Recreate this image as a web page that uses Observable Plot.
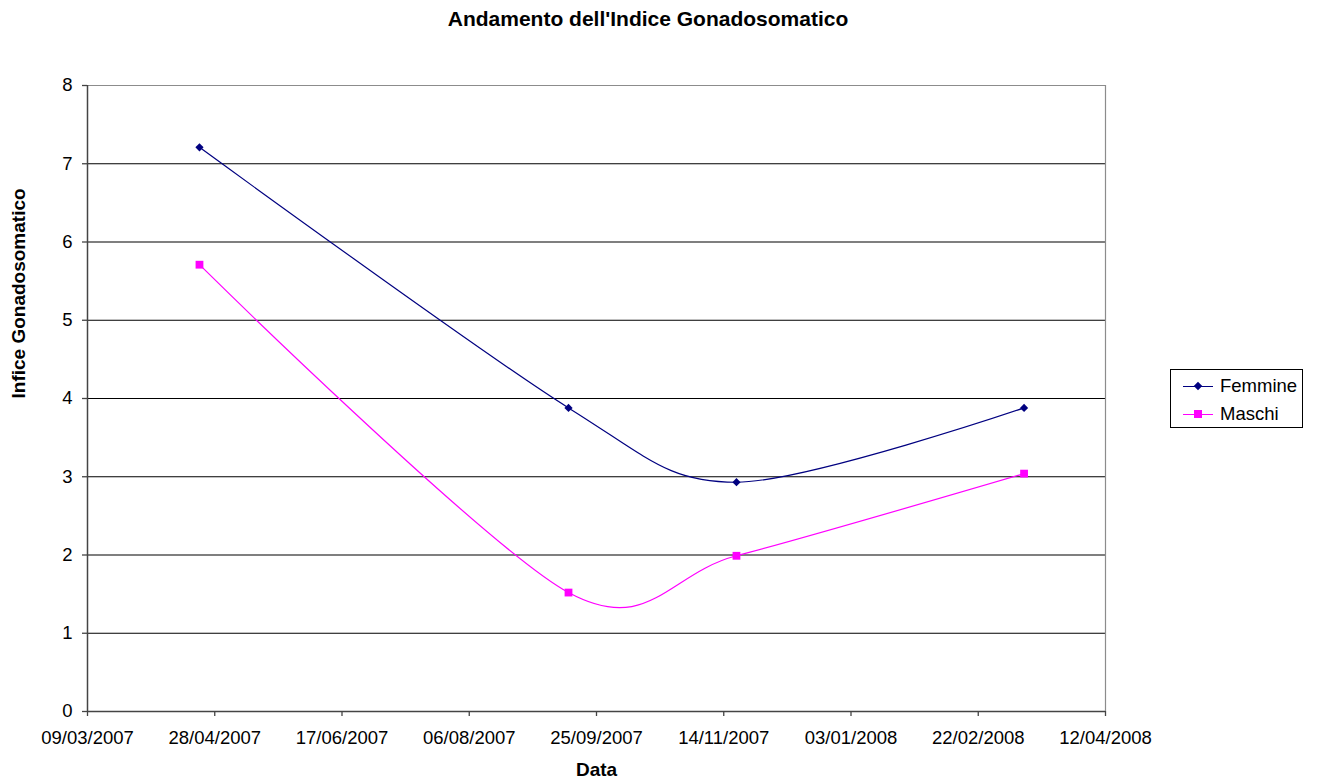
<!DOCTYPE html>
<html>
<head>
<meta charset="utf-8">
<script src="https://cdn.jsdelivr.net/npm/d3@7"></script>
<script src="https://cdn.jsdelivr.net/npm/@observablehq/plot@0.6"></script>
<style>
  html, body { margin: 0; padding: 0; background: #fff; }
  #wrap { position: relative; width: 1317px; height: 782px; font-family: "Liberation Sans", Arial, sans-serif; }
  #legend { position: absolute; left: 1170px; top: 369px; width: 131px; height: 57px; border: 1px solid #000; background: #fff; font-size: 18.5px; }
  .row { position: absolute; left: 0; height: 20px; width: 131px; }
  .swatch { position: absolute; left: 12px; top: 10px; width: 30px; height: 1px; }
  .mark { position: absolute; }
  .lbl { position: absolute; left: 49px; top: -1px; line-height: 22px; color: #000; }
</style>
</head>
<body>
<div id="wrap"></div>
<script>
// ---- data ----
const seriesNames = ["Femmine", "Maschi"];
const seriesColors = ["#000080", "#FF00FF"];
const sampleDates = ["22/04/2007", "14/09/2007", "19/11/2007", "11/03/2008"];
const femmine = [7.21, 3.88, 2.93, 3.88];
const maschi = [5.71, 1.52, 1.99, 3.04];
const xTickLabels = ["09/03/2007", "28/04/2007", "17/06/2007", "06/08/2007", "25/09/2007", "14/11/2007", "03/01/2008", "22/02/2008", "12/04/2008"];
const yTicks = [0, 1, 2, 3, 4, 5, 6, 7, 8];
const gridLines = [1, 2, 3, 4, 5, 6, 7];
const titleText = "Andamento dell'Indice Gonadosomatico";
const xLabel = "Data";
const yLabel = "Infice Gonadosomatico";

// ---- build ----
const parse = d3.utcParse("%d/%m/%Y");
const fmt = d3.utcFormat("%d/%m/%Y");
const xTicks = xTickLabels.map(parse);
const femRows = sampleDates.map((d, i) => ({date: parse(d), value: femmine[i]}));
const masRows = sampleDates.map((d, i) => ({date: parse(d), value: maschi[i]}));

const font = '"Liberation Sans", Arial, sans-serif';

const chart = Plot.plot({
  width: 1317,
  height: 782,
  marginTop: 85,
  marginBottom: 71,
  marginLeft: 87,
  marginRight: 212,
  style: {fontFamily: font, fontSize: "18.5px", color: "#000", background: "#fff"},
  x: {type: "utc", domain: [xTicks[0], xTicks[xTicks.length - 1]]},
  y: {domain: [0, 8]},
  marks: [
    Plot.ruleY(gridLines, {stroke: "#000", strokeWidth: 1.2}),
    Plot.ruleY([8], {stroke: "#8c8c8c", strokeWidth: 1.2}),
    Plot.ruleX([xTicks[xTicks.length - 1]], {stroke: "#8c8c8c", strokeWidth: 1.2}),
    Plot.ruleX([xTicks[0]], {stroke: "#444", strokeWidth: 1.5}),
    Plot.ruleY([0], {stroke: "#444", strokeWidth: 1.5}),
    Plot.axisX({ticks: xTicks, tickFormat: fmt, tickSize: 5, tickPadding: 14, label: null, stroke: "#444", strokeWidth: 1.3, fill: "#000"}),
    Plot.axisY({ticks: yTicks, tickSize: 5, tickPadding: 10, label: null, stroke: "#444", strokeWidth: 1.3, fill: "#000"}),
    Plot.line(femRows, {x: "date", y: "value", stroke: seriesColors[0], strokeWidth: 1.2, curve: "cardinal", tension: 0.1}),
    Plot.line(masRows, {x: "date", y: "value", stroke: seriesColors[1], strokeWidth: 1.2, curve: "cardinal", tension: 0.1}),
    Plot.dot(femRows, {x: "date", y: "value", symbol: "diamond2", r: 3.7, fill: seriesColors[0], stroke: "none"}),
    Plot.dot(masRows, {x: "date", y: "value", symbol: "square", r: 4.4, fill: seriesColors[1], stroke: "none"}),
    Plot.text([titleText], {frameAnchor: "top", dx: 51.5, dy: -74.5, fontSize: 21, fontWeight: "bold", fill: "#000"}),
    Plot.text([xLabel], {frameAnchor: "bottom", dy: 64, fontSize: 19, fontWeight: "bold", fill: "#000"}),
    Plot.text([yLabel], {frameAnchor: "left", dx: -69, rotate: -90, fontSize: 19, fontWeight: "bold", fill: "#000"})
  ]
});
const wrap = document.getElementById("wrap");
wrap.appendChild(chart);

// ---- legend ----
const legend = document.createElement("div");
legend.id = "legend";
seriesNames.forEach((name, i) => {
  const row = document.createElement("div");
  row.className = "row";
  row.style.top = (6 + i * 28) + "px";
  const sw = document.createElement("div");
  sw.className = "swatch";
  sw.style.background = seriesColors[i];
  const mk = document.createElement("div");
  mk.className = "mark";
  mk.style.background = seriesColors[i];
  if (i === 0) {
    mk.style.width = "6px"; mk.style.height = "6px";
    mk.style.left = "12px"; mk.style.top = "-3px";
    mk.style.transform = "rotate(45deg)";
  } else {
    mk.style.width = "8px"; mk.style.height = "8px";
    mk.style.left = "11px"; mk.style.top = "-4px";
  }
  sw.appendChild(mk);
  const lb = document.createElement("div");
  lb.className = "lbl";
  lb.textContent = name;
  row.appendChild(sw);
  row.appendChild(lb);
  legend.appendChild(row);
});
wrap.appendChild(legend);
</script>
</body>
</html>
